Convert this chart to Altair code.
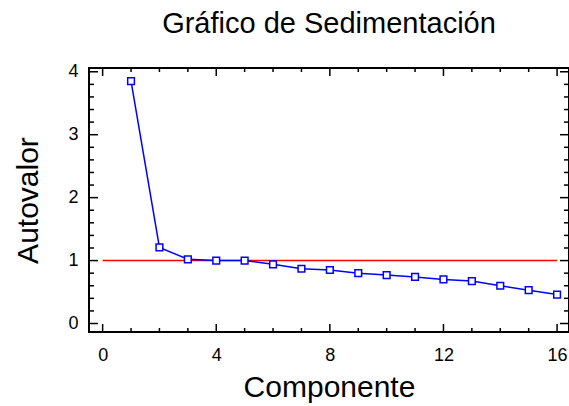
import altair as alt
import pandas as pd

# ---- data ----
titulo = "Gráfico de Sedimentación"
componentes = list(range(1, 17))
autovalores = [3.85, 1.21, 1.02, 1.00, 1.00, 0.94, 0.87, 0.85,
               0.80, 0.77, 0.74, 0.70, 0.675, 0.60, 0.53, 0.46]
ref_value = 1.0
ref_x = [0, 16]
x_tick_labels = [0, 4, 8, 12, 16]
y_tick_labels = [0, 1, 2, 3, 4]
x_minor = list(range(0, 17))
y_minor = [round(i * 0.2, 1) for i in range(21)]

W, H = 480, 264
FONT = "Liberation Sans"

df = pd.DataFrame({"Componente": componentes, "Autovalor": autovalores})
ref_df = pd.DataFrame({"x": [ref_x[0]], "x2": [ref_x[1]], "y": [ref_value]})
title_df = pd.DataFrame({"t": [titulo]})
xmaj = pd.DataFrame({"v": x_tick_labels})
xmin = pd.DataFrame({"v": [v for v in x_minor if v not in x_tick_labels]})
ymaj = pd.DataFrame({"v": y_tick_labels})
ymin = pd.DataFrame({"v": [v for v in y_minor if v not in y_tick_labels]})

xscale = alt.Scale(domain=[-0.48, 16.42], nice=False, zero=False)
yscale = alt.Scale(domain=[-0.135, 4.06], nice=False, zero=False)

xaxis = alt.Axis(values=x_tick_labels, format="d", title="Componente", grid=False, ticks=False, domain=False,
                 labelFont=FONT, labelFontSize=18, labelColor="black",
                 labelBaseline="alphabetic", labelPadding=28,
                 titleFont=FONT, titleFontSize=30, titleFontWeight="normal", titleColor="black",
                 titleBaseline="alphabetic", titleX=W / 2, titleY=64)
yaxis = alt.Axis(values=y_tick_labels, format="d", title="Autovalor", grid=False, ticks=False, domain=False,
                 labelFont=FONT, labelFontSize=18, labelColor="black",
                 labelBaseline="middle", labelPadding=11,
                 titleFont=FONT, titleFontSize=30, titleFontWeight="normal", titleColor="black",
                 titleAngle=270, titleBaseline="alphabetic", titleAlign="center",
                 titleX=-52, titleY=H / 2)

base = alt.Chart(df)

line = base.mark_line(color="#0000ff", strokeWidth=1.5).encode(
    x=alt.X("Componente:Q", scale=xscale, axis=xaxis),
    y=alt.Y("Autovalor:Q", scale=yscale, axis=yaxis),
)
pts = base.mark_point(shape="square", filled=False, size=45, color="#0000ff",
                      strokeWidth=1.5, fill="white", fillOpacity=1).encode(
    x=alt.X("Componente:Q", scale=xscale),
    y=alt.Y("Autovalor:Q", scale=yscale),
)
ref = alt.Chart(ref_df).mark_rule(color="#ff0000", strokeWidth=1.5).encode(
    x=alt.X("x:Q", scale=xscale), x2="x2:Q", y=alt.Y("y:Q", scale=yscale)
)
title = alt.Chart(title_df).mark_text(font=FONT, fontSize=29, color="black",
                                      align="center", baseline="alphabetic").encode(
    text="t:N", x=alt.value(W / 2), y=alt.value(-35)
)

def xticks(d, L):
    b = alt.Chart(d).mark_rule(color="black", strokeWidth=1.5)
    bot = b.encode(x=alt.X("v:Q", scale=xscale), y=alt.value(H), y2=alt.value(H - L))
    top = b.encode(x=alt.X("v:Q", scale=xscale), y=alt.value(0), y2=alt.value(L))
    return [bot, top]

def yticks(d, L):
    b = alt.Chart(d).mark_rule(color="black", strokeWidth=1.5)
    lft = b.encode(y=alt.Y("v:Q", scale=yscale), x=alt.value(0), x2=alt.value(L))
    rgt = b.encode(y=alt.Y("v:Q", scale=yscale), x=alt.value(W), x2=alt.value(W - L))
    return [lft, rgt]

layers = [ref, line, pts, title] + xticks(xmaj, 8) + xticks(xmin, 4) + yticks(ymaj, 9) + yticks(ymin, 5)

chart = alt.layer(*layers).properties(
    width=W, height=H,
    autosize="none",
    padding={"left": 89, "top": 68, "right": 0, "bottom": 74},
).configure(background="white", view=alt.ViewConfig(stroke="black", strokeWidth=2))

chart.save("out.html", embed_options={"renderer": "svg", "actions": False})
